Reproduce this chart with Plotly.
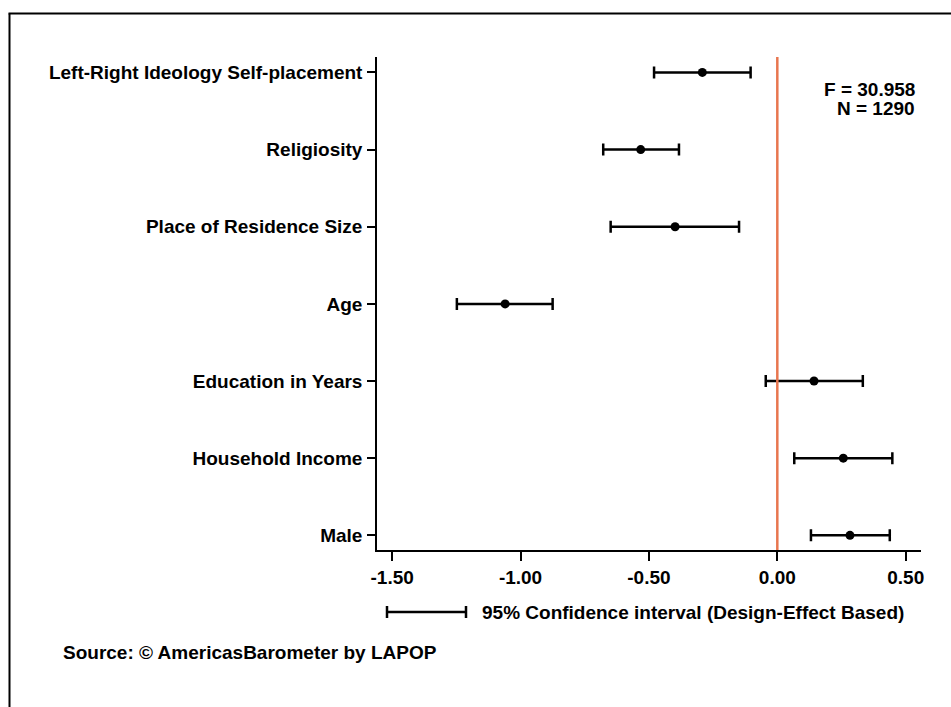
import plotly.graph_objects as go

# ---- data ----
categories = [
    "Left-Right Ideology Self-placement",
    "Religiosity",
    "Place of Residence Size",
    "Age",
    "Education in Years",
    "Household Income",
    "Male",
]
estimates = [-0.292, -0.532, -0.398, -1.060, 0.143, 0.257, 0.283]
ci_low = [-0.480, -0.678, -0.649, -1.248, -0.045, 0.066, 0.131]
ci_high = [-0.104, -0.383, -0.149, -0.875, 0.333, 0.448, 0.438]
x_tickvals = [-1.5, -1.0, -0.5, 0.0, 0.5]
x_ticktext = ["-1.50", "-1.00", "-0.50", "0.00", "0.50"]
f_text = "F = 30.958"
n_text = "N = 1290"
legend_text = "95% Confidence interval (Design-Effect Based)"
source_text = "Source: © AmericasBarometer by LAPOP"

# ---- layout geometry (pixels) ----
W, H = 951, 707
L, R, T, B = 377, 30, 57, 157
pw, ph = W - L - R, H - T - B


def xp(px):
    return (px - L) / pw


def yp(py):
    return (H - B - py) / ph


FONT = "Liberation Sans, Arial, sans-serif"
FS = 19

ypos = list(range(len(categories)))
err_plus = [h - e for h, e in zip(ci_high, estimates)]
err_minus = [e - l for e, l in zip(estimates, ci_low)]

fig = go.Figure()
fig.add_trace(go.Scatter(
    x=estimates, y=ypos, mode="markers",
    marker=dict(color="black", size=9),
    error_x=dict(type="data", symmetric=False, array=err_plus, arrayminus=err_minus,
                 color="black", thickness=2.5, width=6),
    showlegend=False, hoverinfo="skip",
))

shapes = []
# zero reference line
shapes.append(dict(type="line", xref="x", yref="paper", x0=0, x1=0, y0=0, y1=1,
                   line=dict(color="#E8764F", width=2.5), layer="above"))
# outer frame (top and left edges)
shapes.append(dict(type="line", xref="paper", yref="paper", x0=xp(9.5), x1=xp(9.5),
                   y0=yp(13.5), y1=yp(720), line=dict(color="black", width=2)))
shapes.append(dict(type="line", xref="paper", yref="paper", x0=xp(8.5), x1=xp(960),
                   y0=yp(13.5), y1=yp(13.5), line=dict(color="black", width=2)))
# legend sample
ly = 612
shapes.append(dict(type="line", xref="paper", yref="paper", x0=xp(387), x1=xp(466),
                   y0=yp(ly), y1=yp(ly), line=dict(color="black", width=2.5)))
for cx in (387, 466):
    shapes.append(dict(type="line", xref="paper", yref="paper", x0=xp(cx), x1=xp(cx),
                       y0=yp(ly - 6), y1=yp(ly + 6), line=dict(color="black", width=2.5)))

annotations = [
    dict(text="<b>%s</b>" % f_text, xref="paper", yref="paper", x=xp(917), y=yp(89.5),
         xanchor="right", yanchor="middle", showarrow=False,
         font=dict(family=FONT, size=FS, color="black")),
    dict(text="<b>%s</b>" % n_text, xref="paper", yref="paper", x=xp(917), y=yp(108),
         xanchor="right", yanchor="middle", showarrow=False,
         font=dict(family=FONT, size=FS, color="black")),
    dict(text="<b>%s</b>" % legend_text, xref="paper", yref="paper", x=xp(480), y=yp(612),
         xanchor="left", yanchor="middle", showarrow=False,
         font=dict(family=FONT, size=FS, color="black")),
    dict(text="<b>%s</b>" % source_text, xref="paper", yref="paper", x=xp(61), y=yp(652),
         xanchor="left", yanchor="middle", showarrow=False,
         font=dict(family=FONT, size=FS, color="black")),
]

fig.update_layout(
    width=W, height=H,
    margin=dict(l=L, r=R, t=T, b=B, pad=0),
    paper_bgcolor="white", plot_bgcolor="white",
    font=dict(family=FONT, size=FS, color="black"),
    shapes=shapes, annotations=annotations,
    xaxis=dict(range=[-1.559, 0.5596], tickvals=x_tickvals,
               ticktext=["<b>%s</b>" % t for t in x_ticktext],
               showgrid=False, zeroline=False, showline=True, linecolor="black",
               linewidth=1.5, ticks="outside", ticklen=9, tickwidth=1.5,
               tickcolor="black", tickfont=dict(family=FONT, size=FS, color="black")),
    yaxis=dict(range=[6.19, -0.2], tickvals=ypos,
               ticktext=["<b>%s</b>" % c for c in categories],
               showgrid=False, zeroline=False, showline=True, linecolor="black",
               linewidth=1.5, ticks="outside", ticklen=8, tickwidth=1.5,
               tickcolor="black", ticklabelstandoff=1,
               tickfont=dict(family=FONT, size=FS, color="black")),
)

fig.write_html("out.html")
